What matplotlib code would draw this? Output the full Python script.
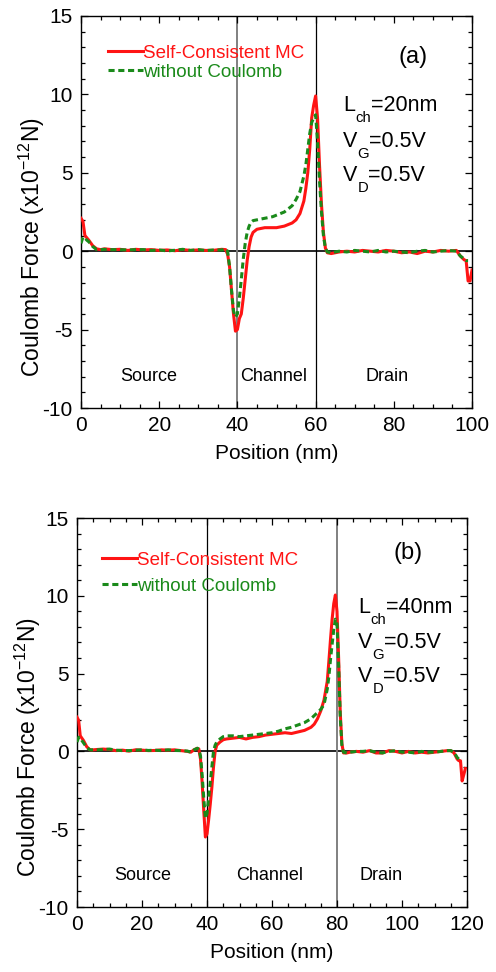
import numpy as np
import matplotlib
matplotlib.use("Agg")
import matplotlib.pyplot as plt
from matplotlib.ticker import MultipleLocator

plt.rcParams['font.family'] = ['Liberation Sans', 'DejaVu Sans']
plt.rcParams['mathtext.fontset'] = 'custom'
plt.rcParams['mathtext.rm'] = 'Liberation Sans'
plt.rcParams['mathtext.it'] = 'Liberation Sans'
plt.rcParams['mathtext.default'] = 'rm'
plt.rcParams['axes.unicode_minus'] = False

nan = np.nan

# panel (a): Lch = 20 nm
xa = [0, 0.5, 1, 1.5, 2, 3, 4, 5, 6, 8, 10, 12, 14, 16, 18, 20, 22, 24, 26, 28,
      30, 32, 34, 36, 37, 37.5, 38, 38.5, 39, 39.5, 40, 40.5, 41, 41.5, 42, 42.5,
      43, 43.5, 44, 45, 46, 47, 48, 49, 50, 51, 52, 53, 54, 55, 56, 57, 57.5, 58,
      58.5, 59, 59.5, 60, 60.5, 61, 61.5, 62, 62.5, 63, 64, 66, 68, 70, 72, 74,
      76, 78, 80, 82, 84, 86, 88, 90, 92, 94, 96, 97, 98, 98.5, 99, 99.5, 100]
red_a = [2.1, 1.9, 1.0, 0.85, 0.7, 0.35, 0.15, 0.1, 0.15, 0.1, 0.12, 0.05, 0.12,
         0.08, 0.1, 0.05, 0.08, 0.03, 0.1, 0.05, 0.08, 0.05, 0.06, 0.12, 0.1,
         -0.2, -1.0, -2.5, -4.0, -5.1, -5.0, -4.3, -4.0, -3.0, -1.8, -0.6, 0.3,
         0.9, 1.2, 1.4, 1.45, 1.5, 1.5, 1.5, 1.5, 1.55, 1.6, 1.7, 1.8, 2.0, 2.4,
         3.2, 4.0, 5.0, 6.5, 8.5, 9.3, 9.9, 8.5, 5.5, 3.0, 1.2, 0.2, -0.1, -0.15,
         -0.05, 0.0, -0.05, 0.05, 0.0, -0.05, 0.05, 0.0, -0.1, -0.05, -0.15, 0.0,
         -0.05, 0.05, 0.0, 0.05, -0.3, -0.55, -0.6, -1.9, -1.9, -1.2]
green_a = [0.5, 0.9, 0.85, 0.7, 0.6, 0.3, 0.1, 0.1, 0.12, 0.1, 0.1, 0.08, 0.1,
           0.1, 0.05, 0.08, 0.02, 0.06, 0.12, 0.05, 0.1, 0.04, 0.08, 0.08, 0.15,
           0.0, -1.0, -2.5, -3.8, -4.2, -4.0, -3.0, -1.8, -0.5, 0.5, 1.2, 1.6,
           1.85, 1.95, 2.0, 2.05, 2.1, 2.15, 2.2, 2.3, 2.4, 2.5, 2.7, 2.9, 3.3,
           3.8, 4.8, 5.5, 6.5, 7.5, 8.2, 8.5, 8.7, 7.0, 4.5, 2.5, 1.0, 0.2, -0.05,
           -0.1, 0.0, -0.05, 0.05, 0.0, -0.05, 0.05, -0.05, 0.0, -0.05, -0.1, 0.0,
           0.05, -0.05, 0.0, 0.05, 0.0, -0.3, -0.5, -0.6, -0.6, nan, nan]

# panel (b): Lch = 40 nm
xb = [0, 0.5, 1, 1.5, 2, 3, 4, 5, 6, 8, 10, 12, 14, 16, 18, 20, 22, 24, 26, 28,
      30, 32, 34, 35, 36, 37, 37.5, 38, 38.5, 39, 39.5, 40, 40.5, 41, 41.5, 42,
      42.5, 43, 44, 45, 46, 48, 50, 52, 54, 56, 58, 60, 62, 64, 66, 68, 70, 72,
      73, 74, 75, 76, 77, 77.5, 78, 78.5, 79, 79.5, 80, 80.5, 81, 81.5, 82, 83,
      84, 86, 88, 90, 92, 94, 96, 98, 100, 102, 104, 106, 108, 110, 112, 114,
      115, 116, 117, 117.5, 118, 118.5, 119, 119.5]
red_b = [2.2, 2.0, 1.0, 0.85, 0.7, 0.3, 0.1, 0.1, 0.12, 0.15, 0.12, 0.05, 0.08,
         0.02, 0.1, 0.08, 0.05, 0.06, 0.1, 0.08, 0.1, 0.05, 0.0, -0.05, 0.1, 0.2,
         0.15, -0.5, -2.0, -3.8, -5.5, -5.3, -4.4, -3.4, -2.3, -1.0, 0.0, 0.4,
         0.6, 0.75, 0.8, 0.85, 0.9, 0.8, 0.9, 0.95, 1.05, 1.1, 1.15, 1.2, 1.15,
         1.25, 1.35, 1.55, 1.75, 2.1, 2.6, 3.3, 4.5, 5.8, 7.2, 8.5, 9.5, 10.05,
         9.0, 6.0, 2.5, 0.5, -0.1, -0.1, -0.05, 0.0, -0.05, 0.05, -0.1, -0.1,
         0.05, 0.0, -0.1, 0.0, -0.1, -0.05, -0.1, -0.05, 0.0, 0.05, 0.05, -0.1,
         -0.5, -0.6, -0.6, -1.9, -1.5, -1.1]
green_b = [0.6, 0.9, 0.9, 0.7, 0.55, 0.25, 0.1, 0.1, 0.1, 0.12, 0.15, 0.08, 0.05,
           0.05, 0.08, 0.1, 0.06, 0.08, 0.05, 0.1, 0.06, 0.05, 0.02, -0.05, 0.1,
           0.2, 0.15, -0.3, -1.5, -3.0, -4.3, -4.0, -3.0, -2.0, -1.0, 0.0, 0.4,
           0.6, 0.8, 0.95, 1.0, 1.0, 0.95, 1.0, 1.05, 1.1, 1.15, 1.2, 1.3, 1.45,
           1.55, 1.7, 1.85, 2.1, 2.3, 2.5, 2.7, 3.0, 4.0, 4.8, 5.9, 6.9, 7.8, 8.5,
           8.2, 5.5, 2.2, 0.4, -0.05, -0.1, -0.05, 0.0, 0.0, 0.05, -0.05, -0.1,
           0.0, 0.05, -0.05, -0.05, -0.1, 0.0, -0.05, -0.05, 0.0, 0.05, 0.05,
           -0.05, -0.4, -0.5, -0.55, -0.5, nan, nan]

red = '#ff1414'
green = '#1a8a1a'
grey = '#808080'


# text with a low subscript like "L_ch=20nm"
def sub_text(ax, x, y, main, sub, rest, size=15.5):
    t1 = ax.text(x, y, main, fontsize=size, va='bottom')
    t2 = ax.annotate(sub, xy=(1, 0), xycoords=t1, xytext=(0, -6.5),
                     textcoords='offset points', fontsize=size * 0.69,
                     va='bottom')
    ax.annotate(rest, xy=(1, 0), xycoords=(t2, t1), fontsize=size,
                va='bottom')


def draw_panel(ax, x, y_red, y_green, xmax, walls, wall_colors, label, lch,
               region_x, info_x, leg_anchor, leg_space, ylab_x):
    ax.plot(x, y_red, color=red, lw=2.2, label='Self-Consistent MC', zorder=3)
    ax.plot(x, y_green, color=green, lw=2.2, dashes=(2.0, 1.2),
            label='without Coulomb', zorder=4)

    # zero line and source/channel/drain boundaries
    ax.axhline(0, color='black', lw=1.2, zorder=1)
    for w, c in zip(walls, wall_colors):
        ax.axvline(w, color=c, lw=1.4 if c == grey else 0.9, zorder=1)

    ax.set_xlim(0, xmax)
    ax.set_ylim(-10, 15)
    ax.xaxis.set_major_locator(MultipleLocator(20))
    ax.xaxis.set_minor_locator(MultipleLocator(5))
    ax.yaxis.set_major_locator(MultipleLocator(5))
    ax.yaxis.set_minor_locator(MultipleLocator(1))
    ax.tick_params(which='both', direction='in', top=True, right=True,
                   labelsize=15, width=0.9)
    ax.tick_params(which='major', length=5, pad=6)
    ax.tick_params(which='minor', length=3)
    for s in ax.spines.values():
        s.set_linewidth(1.0)

    ax.set_xlabel('Position (nm)', fontsize=15, labelpad=6)
    ax.set_ylabel('Coulomb Force (x10$^{-12}$N)', fontsize=16.5)
    ax.yaxis.set_label_coords(ylab_x, 0.41)

    for name, xx in zip(['Source', 'Channel', 'Drain'], region_x):
        ax.text(xx, -8.0, name, fontsize=13, ha='center', va='center')

    ax.text(label[1], label[2], label[0], fontsize=17, ha='center', va='center')
    sub_text(ax, info_x, 8.6, 'L', 'ch', '=%dnm' % lch)
    sub_text(ax, info_x, 6.35, 'V', 'G', '=0.5V')
    sub_text(ax, info_x, 4.15, 'V', 'D', '=0.5V')

    ax.legend(loc='upper left', bbox_to_anchor=leg_anchor, frameon=False,
              fontsize=13.5, handlelength=1.85, handletextpad=0.0,
              labelspacing=leg_space, borderpad=0, borderaxespad=0,
              labelcolor='linecolor')


fig = plt.figure(figsize=(4.96, 9.72), dpi=100)
ax1 = fig.add_axes([81 / 496, 1 - 408 / 972, 391 / 496, 392 / 972])
ax2 = fig.add_axes([77 / 496, 1 - 907 / 972, 390 / 496, 389 / 972])

draw_panel(ax1, xa, red_a, green_a, 100, [40, 60], [grey, 'black'],
           ('(a)', 85, 12.4), 20, [17.2, 49.2, 78.2], 67, (0.069, 0.927), 0.1,
           -0.087)
draw_panel(ax2, xb, red_b, green_b, 120, [40, 80], ['black', grey],
           ('(b)', 101.8, 12.75), 40, [20.3, 59.2, 93.7], 86.5, (0.064, 0.913),
           0.45, -0.087)

fig.savefig('out.png', dpi=100)
